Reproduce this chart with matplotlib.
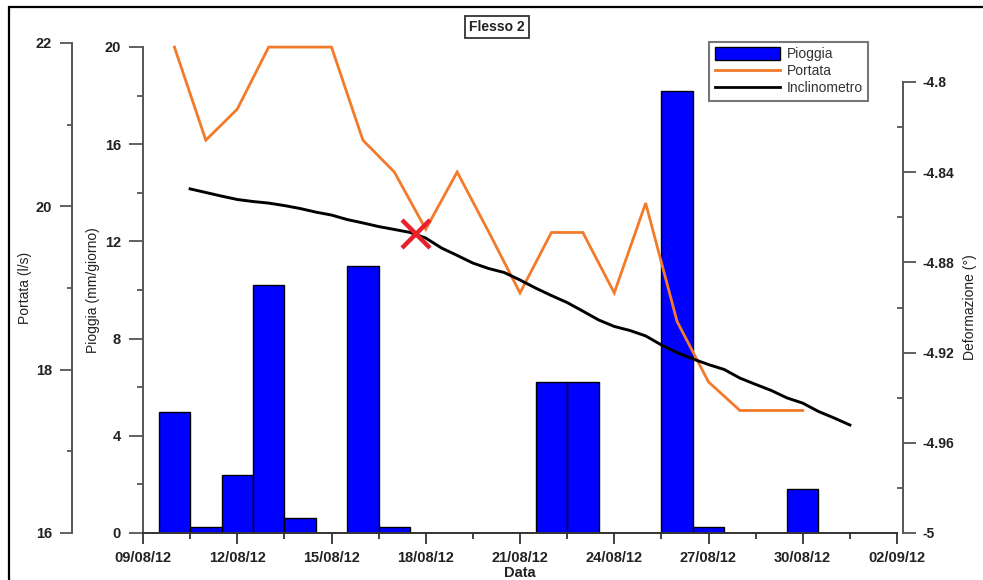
import matplotlib
matplotlib.use("Agg")
import matplotlib.pyplot as plt
import pandas as pd
from matplotlib.ticker import FixedLocator
from matplotlib.patches import Patch, Rectangle
from matplotlib.lines import Line2D

plt.rcParams['font.family'] = ['Liberation Sans', 'DejaVu Sans']
plt.rcParams['axes.unicode_minus'] = False

# --- data -------------------------------------------------------------
rain_dates = ['2012-08-10', '2012-08-11', '2012-08-12', '2012-08-13',
              '2012-08-14', '2012-08-16', '2012-08-17', '2012-08-22',
              '2012-08-23', '2012-08-26', '2012-08-27', '2012-08-30']
rain_mm = [5.0, 0.25, 2.4, 10.2, 0.6, 11.0, 0.25, 6.2, 6.2, 18.2, 0.25, 1.8]

flow_start, flow_end = '2012-08-10', '2012-08-30'
flow_ls = [21.95, 20.81, 21.19, 21.95, 21.95, 21.95, 20.81, 20.42, 19.72,
           20.42, 19.69, 18.94, 19.68, 19.68, 18.94, 20.04, 18.59, 17.85,
           17.50, 17.50, 17.50]

incl_start, incl_step = '2012-08-10 12:00', '12h'
incl_deg = [-4.8474, -4.8490, -4.8506, -4.8521, -4.8530, -4.8537, -4.8548,
            -4.8561, -4.8577, -4.8590, -4.8610, -4.8625, -4.8641, -4.8654,
            -4.8667, -4.8692, -4.8736, -4.8769, -4.8803, -4.8827, -4.8845,
            -4.8878, -4.8914, -4.8947, -4.8978, -4.9016, -4.9055, -4.9084,
            -4.9102, -4.9126, -4.9166, -4.9200, -4.9228, -4.9253, -4.9275,
            -4.9313, -4.9341, -4.9368, -4.9401, -4.9424, -4.9461, -4.9490,
            -4.9521]

flex_date, flex_deg = '2012-08-17 16:20', -4.8676

x_ticks = ['2012-08-09', '2012-08-12', '2012-08-15', '2012-08-18', '2012-08-21',
           '2012-08-24', '2012-08-27', '2012-08-30', '2012-09-02']
x_labels = ['09/08/12', '12/08/12', '15/08/12', '18/08/12', '21/08/12',
            '24/08/12', '27/08/12', '30/08/12', '02/09/12']
rain_ticks = [0, 4, 8, 12, 16, 20]
flow_ticks = [16, 18, 20, 22]
def_ticks = [-5, -4.96, -4.92, -4.88, -4.84, -4.8]
def_labels = ['-5', '-4.96', '-4.92', '-4.88', '-4.84', '-4.8']

# --- styling ----------------------------------------------------------
W, H = 983, 580
PT = 0.72  # points per pixel at 100 dpi
BLUE = '#0000FF'
ORANGE = '#F37A2A'
AXC = '#555555'
TXT = '#222222'

fig = plt.figure(figsize=(W / 100, H / 100), dpi=100)
fig.patch.set_facecolor('white')

ax = fig.add_axes([143 / W, 47 / H, 754 / W, 490 / H])
ax.patch.set_visible(False)

xt = pd.to_datetime(x_ticks)
xminor = xt[:-1] + (xt[1:] - xt[:-1]) / 2

# rainfall bars
ax.bar(pd.to_datetime(rain_dates), rain_mm, width=1.0, color=BLUE,
       edgecolor='black', linewidth=1.0, zorder=2)
ax.set_xlim(xt[0], xt[-1])
ax.set_ylim(0, 20 * 490 / 486)

for s in ('top', 'right'):
    ax.spines[s].set_visible(False)
ax.spines['left'].set_bounds(0, 20)
ax.spines['left'].set_color(AXC)
ax.spines['left'].set_linewidth(1.4)
ax.spines['bottom'].set_color('#333333')
ax.spines['bottom'].set_linewidth(1.4)

ax.set_xticks(xt, x_labels, fontsize=10.5, fontweight='bold', color=TXT)
ax.xaxis.set_minor_locator(FixedLocator(matplotlib.dates.date2num(xminor)))
ax.tick_params(axis='x', which='major', direction='out', length=11 * PT,
               width=1.3, color='#333333', pad=7 * PT)
ax.tick_params(axis='x', which='minor', direction='out', length=6 * PT,
               width=1.3, color='#333333')
ax.set_yticks(rain_ticks, [str(t) for t in rain_ticks], fontsize=10.5,
              fontweight='bold', color=TXT)
ax.yaxis.set_minor_locator(FixedLocator([2, 6, 10, 14, 18]))
ax.tick_params(axis='y', which='major', direction='out', length=14 * PT,
               width=1.3, color=AXC, pad=8 * PT)
ax.tick_params(axis='y', which='minor', direction='out', length=6 * PT,
               width=1.3, color=AXC)

# flow axis (outer left)
ax_q = ax.twinx()
ax_q.yaxis.set_ticks_position('left')
ax_q.yaxis.set_label_position('left')
for s in ('top', 'right', 'bottom'):
    ax_q.spines[s].set_visible(False)
ax_q.spines['left'].set_position(('outward', 71 * PT))
ax_q.spines['left'].set_color(AXC)
ax_q.spines['left'].set_linewidth(1.4)
ax_q.set_ylim(16, 22)
ax_q.set_yticks(flow_ticks, [str(t) for t in flow_ticks], fontsize=10.5,
                fontweight='bold', color=TXT)
ax_q.yaxis.set_minor_locator(FixedLocator([17, 19, 21]))
ax_q.tick_params(axis='y', which='major', direction='out', length=12 * PT,
                 width=1.3, color=AXC, pad=8 * PT)
ax_q.tick_params(axis='y', which='minor', direction='out', length=5 * PT,
                 width=1.3, color=AXC)
ax_q.plot(pd.date_range(flow_start, flow_end, freq='D'), flow_ls,
          color=ORANGE, lw=2.0, solid_joinstyle='miter', zorder=3)

# deformation axis (right)
ax_d = ax.twinx()
for s in ('top', 'left', 'bottom'):
    ax_d.spines[s].set_visible(False)
ax_d.spines['right'].set_position(('outward', 6 * PT))
ax_d.spines['right'].set_bounds(-5, -4.8)
ax_d.spines['right'].set_color(AXC)
ax_d.spines['right'].set_linewidth(1.4)
ax_d.set_ylim(-5, -5 + 0.2 * 490 / 451)
ax_d.set_yticks(def_ticks, def_labels, fontsize=10, fontweight='bold', color=TXT)
ax_d.yaxis.set_minor_locator(FixedLocator([-4.98, -4.94, -4.90, -4.86, -4.82]))
ax_d.tick_params(axis='y', which='major', direction='out', length=13 * PT,
                 width=1.3, color=AXC, pad=6 * PT)
ax_d.tick_params(axis='y', which='minor', direction='in', length=6 * PT,
                 width=1.3, color=AXC)
incl_t = pd.date_range(incl_start, periods=len(incl_deg), freq=incl_step)
ax_d.plot(incl_t, incl_deg, color='black', lw=2.1, zorder=3)
ax_d.plot(pd.to_datetime([flex_date]), [flex_deg], marker='x', ms=20,
          mew=3.2, color='#E8202A', ls='none', zorder=4)

# legend
handles = [Patch(facecolor=BLUE, edgecolor='black', linewidth=1.0),
           Line2D([], [], color=ORANGE, lw=2.0),
           Line2D([], [], color='black', lw=2.0)]
leg = ax_d.legend(handles, ['Pioggia', 'Portata', 'Inclinometro'],
                  loc='upper left', bbox_to_anchor=(0.7507, 1.003),
                  frameon=True, fancybox=False, edgecolor=AXC, fontsize=10,
                  handlelength=4.7, handleheight=1.0, labelspacing=0.22,
                  borderpad=0.4, handletextpad=0.5, borderaxespad=0)
leg.get_frame().set_linewidth(1.5)
for t in leg.get_texts():
    t.set_color('#333333')

# axis titles
fig.text(25 / W, 1 - 288 / H, 'Portata (l/s)', rotation=90, ha='center',
         va='center', fontsize=10, color=TXT)
fig.text(93 / W, 1 - 290 / H, 'Pioggia (mm/giorno)', rotation=90, ha='center',
         va='center', fontsize=10, color=TXT)
fig.text(970 / W, 1 - 307 / H, 'Deformazione (°)', rotation=90, ha='center',
         va='center', fontsize=10, color=TXT)
fig.text(520 / W, 1 - 573 / H, 'Data', ha='center', va='center',
         fontsize=10.5, fontweight='bold', color=TXT)

# chart title in a box
fig.text(497 / W, 1 - 27 / H, 'Flesso 2', ha='center', va='center',
         fontsize=10, fontweight='bold', color=TXT,
         bbox=dict(boxstyle='square,pad=0.3', fc='white', ec='#333333', lw=1.3))

# outer frame
fig.add_artist(Rectangle((9 / W, -0.1), 1.2, 1.1 - 7 / H, transform=fig.transFigure,
                         fill=False, ec='black', lw=1.6, clip_on=False))

fig.savefig('out.png', dpi=100)
